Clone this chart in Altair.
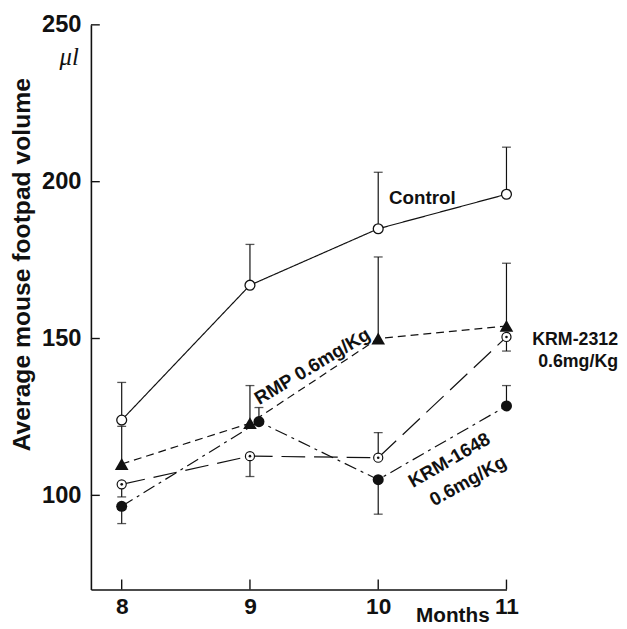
import altair as alt
import pandas as pd

# ---- data ----
months = [8, 9, 10, 11]
control_vals = [124, 167, 185, 196]
control_err = [136, 180, 203, 211]
rmp_vals = [110, 123, 150, 154]
rmp_err = [122, 135, 176, 174]
krm2312_vals = [103.5, 112.5, 112, 150.5]
krm2312_err = [99.5, 106, 120, 146]
krm1648_months = [8, 9.07, 10, 11]
krm1648_vals = [96.5, 123.5, 105, 128.5]
krm1648_err = [91, 128, 94, 135]
y_ticks = [100, 150, 200, 250]
x_ticks = [8, 9, 10, 11]

FONT = "Liberation Sans"
INK = "#111111"

xs = alt.Scale(domain=[7.76, 11], nice=False, zero=False)
ys = alt.Scale(domain=[70, 250], nice=False, zero=False)

x_axis = alt.Axis(
    values=x_ticks, ticks=False, grid=False, domainColor=INK, domainWidth=1.6,
    labelFont=FONT, labelFontWeight="bold", labelFontSize=23, labelColor=INK,
    labelPadding=6, labelFlush=False, title=None)
y_axis = alt.Axis(
    values=y_ticks, ticks=False, grid=False, domainColor=INK, domainWidth=1.6,
    labelFont=FONT, labelFontWeight="bold", labelFontSize=24, labelColor=INK,
    labelPadding=10, labelFlush=False, title=None)


def X(f):
    return alt.X(f, type="quantitative", scale=xs, axis=x_axis)


def Y(f):
    return alt.Y(f, type="quantitative", scale=ys, axis=y_axis)


def frame(m, v, e):
    return pd.DataFrame({"m": m, "v": v, "e": e})


series = {
    "control": frame(months, control_vals, control_err),
    "rmp": frame(months, rmp_vals, rmp_err),
    "k2312": frame(months, krm2312_vals, krm2312_err),
    "k1648": frame(krm1648_months, krm1648_vals, krm1648_err),
}
dashes = {"control": [1, 0], "rmp": [8, 5], "k2312": [24, 9], "k1648": [13, 5, 3, 5]}

# ---- inward tick marks ----
x_tick_layer = alt.Chart(pd.DataFrame({"m": x_ticks})).mark_rule(
    color=INK, strokeWidth=1.4
).encode(x=X("m"), y=alt.value(572), y2=alt.value(562))

y_tick_layer = alt.Chart(pd.DataFrame({"v": y_ticks})).mark_rule(
    color=INK, strokeWidth=1.4
).encode(y=Y("v"), x=alt.value(0), x2=alt.value(9))

layers = [x_tick_layer, y_tick_layer]

# ---- error bars ----
for key, df in series.items():
    base = alt.Chart(df)
    layers.append(base.mark_rule(color=INK, strokeWidth=1.2).encode(x=X("m"), y=Y("v"), y2="e"))
    layers.append(base.mark_tick(color=INK, orient="horizontal", size=9, thickness=1.3).encode(x=X("m"), y=Y("e")))

# ---- lines ----
for key, df in series.items():
    layers.append(alt.Chart(df).mark_line(color=INK, strokeWidth=1.2, strokeDash=dashes[key]).encode(
        x=X("m"), y=Y("v"), order="m:Q"))

# ---- markers ----
layers.append(alt.Chart(series["control"]).mark_point(
    shape="circle", filled=True, fill="white", stroke=INK, strokeWidth=1.3, size=100, opacity=1
).encode(x=X("m"), y=Y("v")))
layers.append(alt.Chart(series["rmp"]).mark_point(
    shape="triangle-up", filled=True, fill=INK, size=190, opacity=1
).encode(x=X("m"), y=Y("v")))
layers.append(alt.Chart(series["k2312"]).mark_point(
    shape="circle", filled=True, fill="white", stroke=INK, strokeWidth=1.2, size=85, opacity=1
).encode(x=X("m"), y=Y("v")))
layers.append(alt.Chart(series["k2312"]).mark_point(
    shape="circle", filled=True, fill=INK, size=7, opacity=1
).encode(x=X("m"), y=Y("v")))
layers.append(alt.Chart(series["k1648"]).mark_point(
    shape="circle", filled=True, fill=INK, size=125, opacity=1
).encode(x=X("m"), y=Y("v")))

# ---- annotations ----
labels = [
    ("Control", 10.084, 194.7, 0, "left", 19),
    ("RMP 0.6mg/Kg", 9.487, 141.1, 329, "center", 19),
    ("KRM-2312", 11.87, 149.4, 0, "right", 18),
    ("0.6mg/Kg", 11.87, 142.6, 0, "right", 18),
    ("KRM-1648", 10.554, 111.2, 330, "center", 19),
    ("0.6mg/Kg", 10.70, 104.6, 331, "center", 19),
]
for txt, lx, ly, ang, al, fs in labels:
    layers.append(alt.Chart(pd.DataFrame({"t": [txt], "x": [lx], "y": [ly]})).mark_text(
        font=FONT, fontWeight="bold", fontSize=fs, color=INK, angle=ang, align=al, baseline="middle"
    ).encode(x=X("x"), y=Y("y"), text="t:N"))

# axis titles / units
layers.append(alt.Chart(pd.DataFrame({"t": ["Average mouse footpad volume"]})).mark_text(
    font=FONT, fontWeight="bold", fontSize=25, color=INK, angle=270, align="center", baseline="middle"
).encode(x=alt.value(-70), y=alt.value(243), text="t:N"))
layers.append(alt.Chart(pd.DataFrame({"t": ["μl"]})).mark_text(
    font="Liberation Serif", fontStyle="italic", fontSize=25, color=INK, align="center", baseline="middle"
).encode(x=alt.value(-22), y=alt.value(33), text="t:N"))
layers.append(alt.Chart(pd.DataFrame({"t": ["Months"]})).mark_text(
    font=FONT, fontWeight="bold", fontSize=21, color=INK, align="right", baseline="alphabetic"
).encode(x=alt.value(404), y=alt.value(605), text="t:N"))

chart = alt.layer(*layers).properties(
    width=421, height=572,
    autosize=alt.AutoSizeParams(type="none"),
    padding={"left": 84, "top": 13, "right": 114, "bottom": 36},
    background="white",
).configure_view(stroke=None).configure_axis(grid=False)

chart.save("out.html", embed_options={"renderer": "svg", "actions": False})
